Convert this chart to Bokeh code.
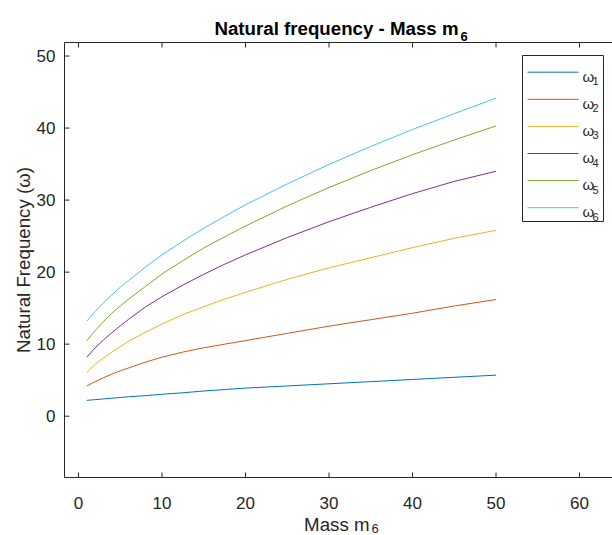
import math
from bokeh.plotting import figure
from bokeh.models import Range1d, Label
from bokeh.core.properties import value
from bokeh.embed import file_html
from bokeh.resources import INLINE

# ---- data ----
mass = [1, 2, 3, 4, 5, 6, 8, 10, 12.5, 15, 17.5, 20, 25, 30, 35, 40, 45, 50]
w1 = [2.2, 2.3, 2.4, 2.5, 2.6, 2.7, 2.85, 3.05, 3.25, 3.5, 3.7, 3.9, 4.2, 4.5, 4.8, 5.1, 5.4, 5.7]
w2 = [4.2, 4.8, 5.35, 5.85, 6.3, 6.7, 7.5, 8.2, 8.9, 9.5, 10.0, 10.5, 11.5, 12.5, 13.4, 14.3, 15.3, 16.2]
w3 = [6.1, 7.2, 8.1, 8.9, 9.65, 10.4, 11.65, 12.8, 14.1, 15.2, 16.25, 17.2, 19.0, 20.6, 22.0, 23.4, 24.7, 25.8]
w4 = [8.2, 9.5, 10.6, 11.6, 12.55, 13.45, 15.15, 16.6, 18.2, 19.7, 21.1, 22.4, 24.8, 27.0, 29.0, 30.9, 32.6, 34.0]
w5 = [10.5, 11.9, 13.15, 14.3, 15.3, 16.25, 18.0, 19.75, 21.6, 23.35, 24.9, 26.4, 29.2, 31.75, 34.1, 36.3, 38.35, 40.3]
w6 = [13.2, 14.55, 15.75, 16.85, 17.9, 18.85, 20.7, 22.4, 24.3, 26.1, 27.75, 29.35, 32.25, 34.95, 37.45, 39.8, 42.0, 44.15]
series = [w1, w2, w3, w4, w5, w6]
series_subs = ["1", "2", "3", "4", "5", "6"]
colors = ["#0072BD", "#D95319", "#EDB120", "#7E2F8E", "#77AC30", "#4DBEEE"]
x_ticks = [0, 10, 20, 30, 40, 50, 60]
y_ticks = [0, 10, 20, 30, 40, 50]
x_tick_labels = [str(t) for t in x_ticks]
y_tick_labels = [str(t) for t in y_ticks]

# ---- layout (pixel positions of the axes box) ----
W, H = 612, 535
FONT = "Liberation Sans"
TXT = "#262626"
FL, FT, FR, FB = 64, 42, 612, 477
AX_X = (-1.68, 63.95)   # x data range across the axes box
AX_Y = (-8.51, 51.88)   # y data range across the axes box


def X(px):
    return AX_X[0] + (px - FL) / (FR - FL) * (AX_X[1] - AX_X[0])


def Y(py):
    return AX_Y[1] - (py - FT) / (FB - FT) * (AX_Y[1] - AX_Y[0])


p = figure(width=W, height=H, output_backend="svg", toolbar_location=None,
           x_range=Range1d(X(0), X(W)), y_range=Range1d(Y(H), Y(0)),
           x_axis_location=None, y_axis_location=None, min_border=0)
p.outline_line_color = None
p.background_fill_color = "white"
p.border_fill_color = "white"
p.xgrid.visible = False
p.ygrid.visible = False

# axes box: left, bottom and top edges
p.segment(x0=[X(FL), X(FL), X(FL)], x1=[X(FL), X(FR), X(FR)],
          y0=[Y(FT), Y(FB), Y(FT)], y1=[Y(FB), Y(FB), Y(FT)], line_color=TXT, line_width=1)
# inward ticks
n = len(x_ticks)
p.segment(x0=x_ticks, x1=x_ticks, y0=[Y(FB)] * n, y1=[Y(FB - 5)] * n, line_color=TXT, line_width=1)
p.segment(x0=x_ticks, x1=x_ticks, y0=[Y(FT)] * n, y1=[Y(FT + 5)] * n, line_color=TXT, line_width=1)
m = len(y_ticks)
p.segment(x0=[X(FL)] * m, x1=[X(FL + 5)] * m, y0=y_ticks, y1=y_ticks, line_color=TXT, line_width=1)
# tick labels
p.text(x=x_ticks, y=[Y(502)] * n, text=x_tick_labels, text_font=value(FONT),
       text_font_size=value("17px"), text_color=TXT, text_align="center", text_baseline="alphabetic")
p.text(x=[X(55)] * m, y=y_ticks, text=y_tick_labels, text_font=value(FONT),
       text_font_size=value("17px"), text_color=TXT, text_align="right", text_baseline="middle")

# data curves
for ys, c in zip(series, colors):
    p.line(mass, ys, line_color=c, line_width=1)

# legend box
p.quad(left=[X(522)], right=[X(603)], top=[Y(55)], bottom=[Y(221)],
       fill_color="white", line_color=TXT, line_width=1)
for i, (c, s) in enumerate(zip(colors, series_subs)):
    yy = 71.7 + i * 27.1
    p.segment(x0=[X(527)], x1=[X(578)], y0=[Y(yy)], y1=[Y(yy)], line_color=c, line_width=1)
    p.add_layout(Label(x=X(582), y=Y(yy + 4), text="\u03c9", text_font=FONT, text_font_size="15px",
                       text_color=TXT, text_baseline="alphabetic"))
    p.add_layout(Label(x=X(592), y=Y(yy + 9), text=s, text_font=FONT, text_font_size="11px",
                       text_color=TXT, text_baseline="alphabetic"))

# title
p.add_layout(Label(x=X(458), y=Y(28), text="Natural frequency - Mass m", text_font=FONT,
                   text_font_size="18.7px", text_font_style="bold", text_color="black",
                   text_align="right", text_baseline="alphabetic"))
p.add_layout(Label(x=X(460), y=Y(36), text="6", text_font=FONT,
                   text_font_size="13px", text_font_style="bold", text_color="black",
                   text_align="left", text_baseline="alphabetic"))

# x axis label
p.add_layout(Label(x=X(369), y=Y(524), text="Mass m", text_font=FONT,
                   text_font_size="18.7px", text_color=TXT,
                   text_align="right", text_baseline="alphabetic"))
p.add_layout(Label(x=X(371), y=Y(528), text="6", text_font=FONT,
                   text_font_size="13px", text_color=TXT,
                   text_align="left", text_baseline="alphabetic"))

# y axis label
p.add_layout(Label(x=X(23), y=Y((FT + FB) / 2), text="Natural Frequency (\u03c9)", text_font=FONT,
                   text_font_size="18.7px", text_color=TXT, angle=math.pi / 2,
                   text_align="center", text_baseline="middle"))

open("out.html", "w").write(file_html(p, INLINE))
